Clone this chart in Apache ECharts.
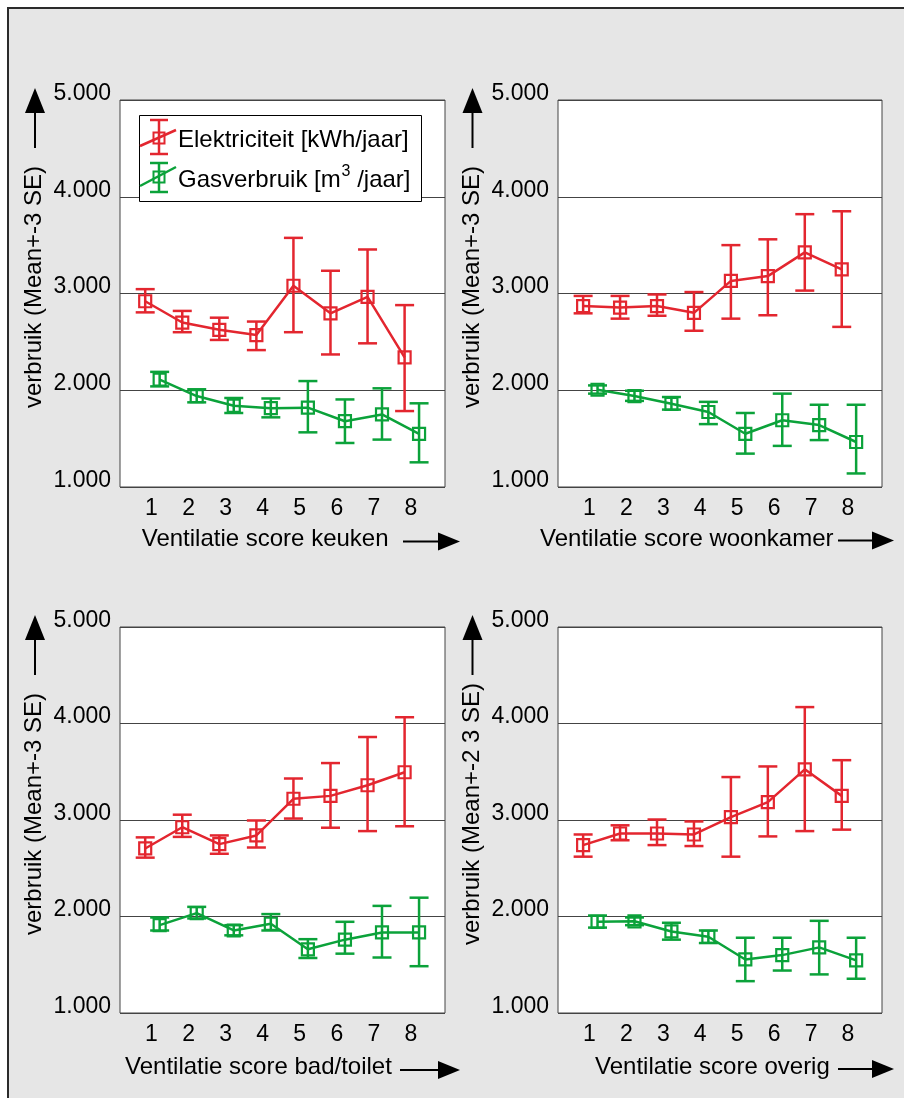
<!DOCTYPE html>
<html>
<head>
<meta charset="utf-8">
<script src="https://cdn.jsdelivr.net/npm/echarts@6/dist/echarts.min.js"></script>
<style>
  html, body { margin: 0; padding: 0; background: #fff; }
  #chart { width: 904px; height: 1098px; }
</style>
</head>
<body>
<div id="chart"></div>
<script>
// ---------- data ----------
const categories = [1, 2, 3, 4, 5, 6, 7, 8];
const xTickLabels = ['1', '2', '3', '4', '5', '6', '7', '8'];
const yTicks = [1000, 2000, 3000, 4000, 5000];

const xTitles = ['Ventilatie score keuken', 'Ventilatie score woonkamer', 'Ventilatie score bad/toilet', 'Ventilatie score overig'];
const yTitles = ['verbruik (Mean+-3 SE)', 'verbruik (Mean+-3 SE)', 'verbruik (Mean+-3 SE)', 'verbruik (Mean+-2 3 SE)'];
const seriesNames = ['Elektriciteit [kWh/jaar]', 'Gasverbruik [m3 /jaar]'];

// keuken
const keukenElecMean = [2920, 2700, 2625, 2570, 3080, 2795, 2965, 2340];
const keukenElecLow  = [2805, 2600, 2520, 2415, 2600, 2370, 2485, 1785];
const keukenElecHigh = [3045, 2820, 2750, 2710, 3575, 3235, 3455, 2880];
const keukenGasMean  = [2110, 1940, 1840, 1815, 1820, 1680, 1750, 1550];
const keukenGasLow   = [2040, 1875, 1765, 1720, 1565, 1455, 1490, 1255];
const keukenGasHigh  = [2190, 2010, 1920, 1915, 2095, 1905, 2020, 1865];

// woonkamer
const woonElecMean = [2870, 2855, 2870, 2800, 3130, 3180, 3425, 3250];
const woonElecLow  = [2795, 2740, 2770, 2615, 2740, 2775, 3030, 2655];
const woonElecHigh = [2975, 2975, 2990, 3015, 3500, 3560, 3820, 3850];
const woonGasMean  = [2005, 1940, 1860, 1775, 1550, 1690, 1640, 1465];
const woonGasLow   = [1965, 1890, 1800, 1650, 1345, 1425, 1485, 1140];
const woonGasHigh  = [2050, 1995, 1930, 1880, 1765, 1965, 1850, 1850];

// bad/toilet
const badElecMean = [2705, 2925, 2750, 2840, 3220, 3250, 3360, 3495];
const badElecLow  = [2610, 2825, 2650, 2715, 3015, 2920, 2885, 2935];
const badElecHigh = [2820, 3055, 2840, 2995, 3430, 3590, 3860, 4065];
const badGasMean  = [1910, 2035, 1855, 1925, 1660, 1760, 1835, 1835];
const badGasLow   = [1855, 1980, 1805, 1855, 1570, 1615, 1575, 1485];
const badGasHigh  = [1990, 2100, 1910, 2025, 1765, 1945, 2110, 2195];

// overig
const overigElecMean = [2740, 2860, 2860, 2850, 3030, 3185, 3525, 3250];
const overigElecLow  = [2620, 2790, 2740, 2730, 2620, 2830, 2885, 2900];
const overigElecHigh = [2850, 2945, 3005, 2985, 3445, 3555, 4170, 3620];
const overigGasMean  = [1945, 1950, 1845, 1790, 1555, 1600, 1680, 1545];
const overigGasLow   = [1885, 1910, 1760, 1725, 1330, 1440, 1400, 1355];
const overigGasHigh  = [2010, 1990, 1935, 1855, 1780, 1780, 1955, 1780];

// ---------- layout / style ----------
const FONT = "'Liberation Sans', Arial, Helvetica, sans-serif";
const RED = '#e3262f';
const GREEN = '#0ba23a';
const ELEC_OFF = -0.17, GAS_OFF = 0.22;
const LW = 2.5;

const panels = [
  { left: 120, top: 100, width: 325, height: 387, elec: [keukenElecMean, keukenElecLow, keukenElecHigh], gas: [keukenGasMean, keukenGasLow, keukenGasHigh],
    yt: [34, 287], ya: 35, xt: [141.7, 539], xa: [403, 460, 541.5] },
  { left: 558, top: 100, width: 324, height: 387, elec: [woonElecMean, woonElecLow, woonElecHigh], gas: [woonGasMean, woonGasLow, woonGasHigh],
    yt: [472, 287], ya: 472.5, xt: [540, 539], xa: [838, 894, 540.5] },
  { left: 120, top: 627, width: 325, height: 386, elec: [badElecMean, badElecLow, badElecHigh], gas: [badGasMean, badGasLow, badGasHigh],
    yt: [34, 814], ya: 35, xt: [125, 1067], xa: [400, 460, 1070] },
  { left: 558, top: 627, width: 324, height: 386, elec: [overigElecMean, overigElecLow, overigElecHigh], gas: [overigGasMean, overigGasLow, overigGasHigh],
    yt: [472, 814], ya: 472.5, xt: [595, 1067], xa: [838, 894, 1069] }
];

function fmtThousands(v) {
  return String(v).replace(/\B(?=(\d{3})+$)/g, '.');
}

function errorBarRender(color) {
  return function (params, api) {
    const x = api.value(0), lo = api.value(1), hi = api.value(2), m = api.value(3);
    const pLo = api.coord([x, lo]), pHi = api.coord([x, hi]), pM = api.coord([x, m]);
    const cw = 9.5, s = 6;
    const st = { stroke: color, lineWidth: LW, fill: null };
    return {
      type: 'group',
      children: [
        { type: 'line', shape: { x1: pLo[0], y1: pLo[1], x2: pHi[0], y2: pHi[1] }, style: st },
        { type: 'line', shape: { x1: pLo[0] - cw, y1: pLo[1], x2: pLo[0] + cw, y2: pLo[1] }, style: st },
        { type: 'line', shape: { x1: pHi[0] - cw, y1: pHi[1], x2: pHi[0] + cw, y2: pHi[1] }, style: st },
        { type: 'rect', shape: { x: pM[0] - s, y: pM[1] - s, width: 2 * s, height: 2 * s }, style: { stroke: color, lineWidth: 2.2, fill: 'none' } }
      ]
    };
  };
}

const grid = [], xAxis = [], yAxis = [], series = [], graphic = [];

// outer frame
graphic.push({ type: 'rect', z: -100, shape: { x: 8, y: 8, width: 910, height: 1100 }, style: { fill: '#e6e6e6', stroke: '#2b2b2b', lineWidth: 2 } });

panels.forEach((p, i) => {
  grid.push({ left: p.left, top: p.top, width: p.width, height: p.height, show: true, backgroundColor: '#fff', borderColor: '#444', borderWidth: 1 });
  xAxis.push({
    type: 'value', gridIndex: i, min: 0.15, max: 8.92,
    axisLine: { show: false }, axisTick: { show: false }, splitLine: { show: false },
    axisLabel: {
      customValues: categories, margin: 10, color: '#000', fontSize: 23, fontFamily: FONT,
      formatter: v => xTickLabels[categories.indexOf(Math.round(v))] || ''
    }
  });
  yAxis.push({
    type: 'value', gridIndex: i, min: yTicks[0], max: yTicks[yTicks.length - 1], interval: 1000,
    axisLine: { show: false }, axisTick: { show: false },
    splitLine: { show: true, lineStyle: { color: '#444', width: 1 } },
    axisLabel: { margin: 9, color: '#000', fontSize: 23, fontFamily: FONT, verticalAlign: 'bottom', lineHeight: 13, formatter: fmtThousands }
  });
  [[p.elec, RED, ELEC_OFF, seriesNames[0]], [p.gas, GREEN, GAS_OFF, seriesNames[1]]].forEach(([arr, color, off, name]) => {
    const [mean, low, high] = arr;
    series.push({
      type: 'line', name: name, xAxisIndex: i, yAxisIndex: i, symbol: 'none', silent: true,
      lineStyle: { color: color, width: LW }, itemStyle: { color: color },
      data: categories.map((c, k) => [c + off, mean[k]])
    });
    series.push({
      type: 'custom', name: name, xAxisIndex: i, yAxisIndex: i, silent: true,
      renderItem: errorBarRender(color),
      encode: { x: 0, y: [1, 2, 3] },
      data: categories.map((c, k) => [c + off, low[k], high[k], mean[k]]),
      z: 3
    });
  });

  // y title
  graphic.push({ type: 'text', x: p.yt[0], y: p.yt[1], rotation: Math.PI / 2,
    style: { text: yTitles[i], fill: '#000', font: '24px ' + FONT, align: 'center', verticalAlign: 'middle' } });
  // y arrow
  const ax = p.ya, t = p.top;
  graphic.push({ type: 'line', shape: { x1: ax, y1: t + 48, x2: ax, y2: t + 10 }, style: { stroke: '#000', lineWidth: 2 } });
  graphic.push({ type: 'polygon', shape: { points: [[ax - 10, t + 13], [ax, t - 12], [ax + 10, t + 13]] }, style: { fill: '#000' } });
  // x title
  graphic.push({ type: 'text', x: p.xt[0], y: p.xt[1],
    style: { text: xTitles[i], fill: '#000', font: '24px ' + FONT, align: 'left', verticalAlign: 'middle' } });
  // x arrow
  const [x0, tip, ay] = p.xa;
  graphic.push({ type: 'line', shape: { x1: x0, y1: ay, x2: tip - 8, y2: ay }, style: { stroke: '#000', lineWidth: 2 } });
  graphic.push({ type: 'polygon', shape: { points: [[tip - 22, ay - 9], [tip, ay], [tip - 22, ay + 9]] }, style: { fill: '#000' } });
});

// legend (top-left panel)
function legendIcon(color, cx, cy, top, bottom, d) {
  const st = { stroke: color, lineWidth: LW };
  return [
    { type: 'line', z: 101, shape: { x1: d[0], y1: d[1], x2: d[2], y2: d[3] }, style: st },
    { type: 'line', z: 101, shape: { x1: cx, y1: top, x2: cx, y2: bottom }, style: st },
    { type: 'line', z: 101, shape: { x1: cx - 9, y1: top, x2: cx + 9, y2: top }, style: st },
    { type: 'line', z: 101, shape: { x1: cx - 9, y1: bottom, x2: cx + 9, y2: bottom }, style: st },
    { type: 'rect', z: 101, shape: { x: cx - 5.5, y: cy - 5.5, width: 11, height: 11 }, style: { stroke: color, lineWidth: 2, fill: 'none' } }
  ];
}
graphic.push({ type: 'rect', z: 100, shape: { x: 139.5, y: 115.5, width: 282, height: 86 }, style: { fill: '#fff', stroke: '#000', lineWidth: 1 } });
legendIcon(RED, 159, 138, 120, 154, [140, 146, 176, 130]).forEach(g => graphic.push(g));
legendIcon(GREEN, 159, 177, 163, 192, [140, 186, 176, 167]).forEach(g => graphic.push(g));
graphic.push({ type: 'text', z: 101, x: 178, y: 140, style: { text: seriesNames[0], fill: '#000', font: '24px ' + FONT, verticalAlign: 'middle' } });
graphic.push({ type: 'text', z: 101, x: 178, y: 180, style: { text: 'Gasverbruik [m', fill: '#000', font: '24px ' + FONT, verticalAlign: 'middle' } });
graphic.push({ type: 'text', z: 101, x: 341.5, y: 172, style: { text: '3', fill: '#000', font: '16px ' + FONT, verticalAlign: 'middle' } });
graphic.push({ type: 'text', z: 101, x: 350.5, y: 180, style: { text: ' /jaar]', fill: '#000', font: '24px ' + FONT, verticalAlign: 'middle' } });

const chart = echarts.init(document.getElementById('chart'), null, { renderer: 'canvas' });
chart.setOption({
  animation: false,
  backgroundColor: 'transparent',
  grid, xAxis, yAxis, series, graphic
});
</script>
</body>
</html>
